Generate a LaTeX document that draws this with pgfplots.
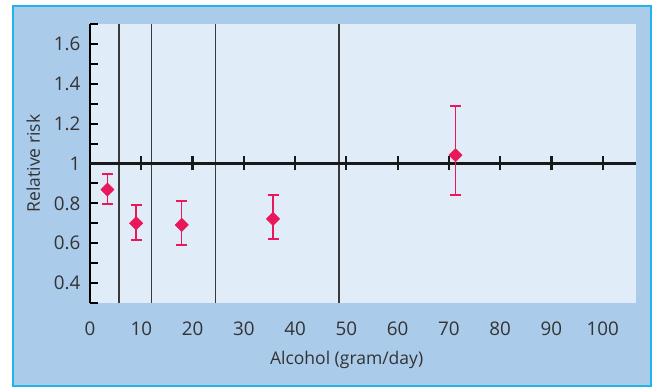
\documentclass[border=0pt]{standalone}
\usepackage{fontspec}
\setmainfont{Open Sans}
\usepackage{pgfplots}
\pgfplotsset{compat=1.18}
\definecolor{outerblue}{HTML}{ABCBEA}
\definecolor{innerblue}{HTML}{E0ECF8}
\definecolor{frameblue}{HTML}{22B3E8}
\definecolor{crimson}{HTML}{E8185A}
\definecolor{txt}{HTML}{333333}
\definecolor{vline}{HTML}{3A3A3A}
\begin{document}
\begin{tikzpicture}
\path[use as bounding box] (0,0) rectangle (654bp,387bp);
\fill[white] (0,0) rectangle (654bp,387bp);
\fill[outerblue] (13bp,1bp) rectangle (651bp,381bp);
\draw[frameblue, line width=1.6bp] (13bp,1bp) rectangle (651bp,381bp);
\begin{axis}[
  at={(90bp,84bp)}, anchor=south west,
  scale only axis, width=546bp, height=279bp,
  xmin=0, xmax=106.5, ymin=0.3, ymax=1.7,
  axis background/.style={fill=innerblue},
  axis line style={draw=none},
  xtick={0,10,...,100},
  x tick style={draw=none},
  ytick={0.4,0.6,0.8,1,1.2,1.4,1.6},
  minor ytick={0.3,0.5,0.7,0.9,1.1,1.3,1.5,1.7},
  ytick pos=left,
  tick align=inside,
  major tick length=8bp,
  minor tick length=8bp,
  y tick style={line width=2bp, black},
  /pgf/number format/assume math mode=true,
  tick label style={font=\fontsize{18.8bp}{21bp}\selectfont, text=txt},
  yticklabel style={xshift=-6bp},
  xticklabel style={yshift=-15bp},
  label style={font=\fontsize{17.5bp}{20bp}\selectfont, text=txt},
  xlabel={Alcohol (gram/day)},
  ylabel={Relative risk},
  xlabel style={at={(axis description cs:0.47,-0.204)}, anchor=center},
  ylabel style={at={(axis description cs:-0.104,0.5)}, anchor=center},
  clip=false,
]
\draw[vline, line width=1.6bp] (axis cs:5.7,0.3) -- (axis cs:5.7,1.7);
\draw[vline, line width=1.6bp] (axis cs:12,0.3) -- (axis cs:12,1.7);
\draw[vline, line width=1.6bp] (axis cs:24.5,0.3) -- (axis cs:24.5,1.7);
\draw[vline, line width=1.6bp] (axis cs:48.6,0.3) -- (axis cs:48.6,1.7);
\draw[black, line width=2.4bp] (axis cs:0,0.3) -- (axis cs:0,1.7);
\draw[black!90, line width=2.4bp] (axis cs:0,1) -- (axis cs:106.5,1);
\pgfplotsinvokeforeach{10,20,30,40,50,60,70,80,90,100}{
  \draw[black!90, line width=2.2bp] ([yshift=-7bp]axis cs:#1,1) -- ([yshift=7bp]axis cs:#1,1);
}
\addplot[only marks, mark=square*, mark size=4.7bp, color=crimson,
  mark options={rotate=45, fill=crimson, draw=crimson},
  error bars/.cd, y dir=both, y explicit,
  error bar style={line width=1.4bp, crimson},
  error mark options={rotate=90, mark size=5.5bp, line width=1.8bp, crimson}]
  table[x=x, y=y, y error plus=ep, y error minus=em] {
  x    y     ep    em
  3.4  0.869 0.077 0.071
  9.0  0.700 0.093 0.085
  17.9 0.692 0.119 0.101
  35.7 0.722 0.121 0.102
  71.3 1.042 0.248 0.199
  };
\end{axis}
\end{tikzpicture}
\end{document}
